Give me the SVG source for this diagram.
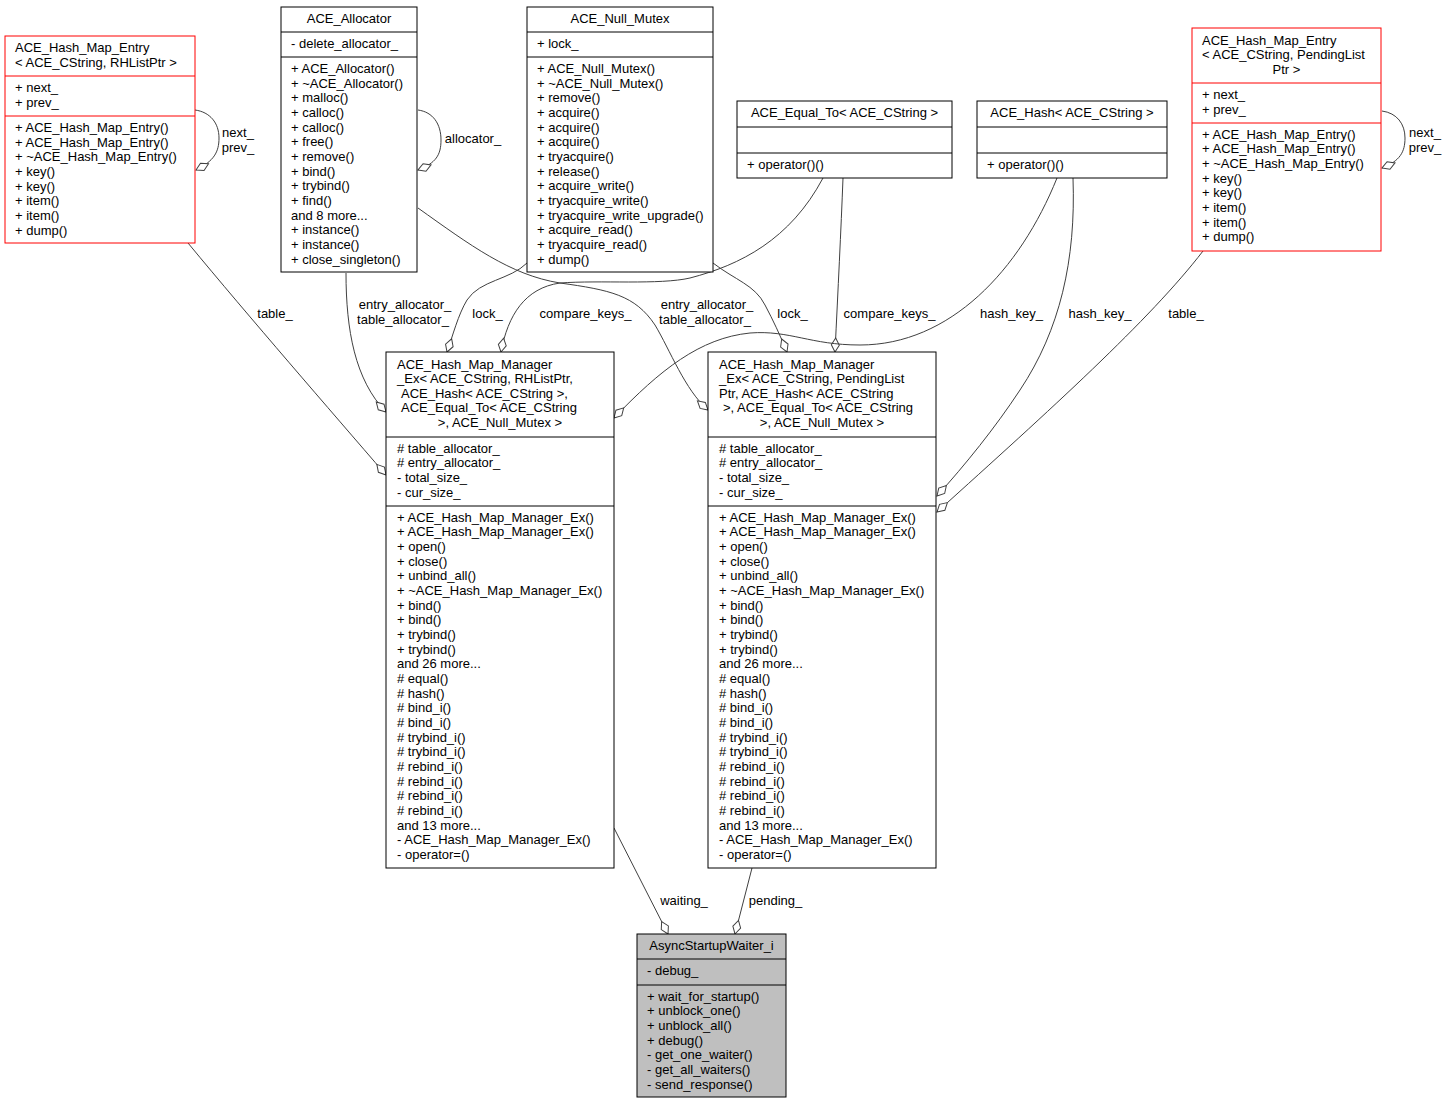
<svg xmlns="http://www.w3.org/2000/svg" width="1448" height="1104" viewBox="0 0 1448 1104">
<style>
text{font-family:"Liberation Sans",Arial,sans-serif;font-size:13px;fill:#000}
.m{text-anchor:middle}
.box{fill:#fff;stroke:#000;stroke-width:1}
.red{fill:#fff;stroke:#ff0000;stroke-width:1}
.grey{fill:#bfbfbf;stroke:#000;stroke-width:1}
.sep{stroke:#000;stroke-width:1}
.sepr{stroke:#ff0000;stroke-width:1}
.e{fill:none;stroke:#404040;stroke-width:1;marker-end:url(#d)}
</style>
<defs>
<marker id="d" markerUnits="userSpaceOnUse" markerWidth="18" markerHeight="12" viewBox="-16 -6 18 12" refX="0" refY="0" orient="auto">
<path d="M0,0 L-7,-4 L-14,0 L-7,4 Z" fill="#fff" stroke="#404040" stroke-width="1"/>
</marker>
</defs>
<rect width="1448" height="1104" fill="#fff"/>

<g id="connectors">
<path class="e" d="M195,110 C210,112 219,123 219,138 C219,152 214,161 196,170"/>
<text class="m" x="238" y="136.5">next_</text><text class="m" x="238" y="151.5">prev_</text>
<path class="e" d="M418,110 C433,112 441,124 441,140 C441,155 436,163 418,170"/>
<text class="m" x="473" y="142.5">allocator_</text>
<path class="e" d="M1382,111 C1397,113 1405,124 1405,138 C1405,152 1400,161 1382,168"/>
<text class="m" x="1425" y="136.5">next_</text><text class="m" x="1425" y="151.5">prev_</text>
<path class="e" d="M188,243 C250,318 330,410 386,475"/>
<text class="m" x="275" y="317.5">table_</text>
<path class="e" d="M346,273 C346,330 355,380 386,412"/>
<text class="m" x="405" y="308.5">entry_allocator_</text><text class="m" x="403" y="323.5">table_allocator_</text>
<path class="e" d="M527,263 C510,280 480,280 467,300 C458,315 453,335 447,352"/>
<text class="m" x="487.5" y="317.5">lock_</text>
<path class="e" d="M823,178 C790,240 740,265 690,278 C660,285 600,280 560,283 C525,288 508,315 501,352"/>
<text class="m" x="585.5" y="317.5">compare_keys_</text>
<path class="e" d="M418,208 C470,245 510,275 560,283 C610,290 635,295 655,325 C670,350 685,390 708,410"/>
<text class="m" x="707" y="308.5">entry_allocator_</text><text class="m" x="705" y="323.5">table_allocator_</text>
<path class="e" d="M713,263 C735,280 755,285 765,305 C773,320 780,335 787,352"/>
<text class="m" x="792.5" y="317.5">lock_</text>
<path class="e" d="M843,178 C841,230 838,290 835,352"/>
<text class="m" x="889.5" y="317.5">compare_keys_</text>
<path class="e" d="M1057,178 C1020,270 950,345 860,345 C810,345 790,330 750,333 C700,338 660,370 614,418"/>
<text class="m" x="1011.5" y="317.5">hash_key_</text>
<path class="e" d="M1073,178 C1076,260 1060,330 1020,390 C995,428 965,465 937,496"/>
<text class="m" x="1100" y="317.5">hash_key_</text>
<path class="e" d="M1203,251 C1150,320 1050,410 937,512"/>
<text class="m" x="1186" y="317.5">table_</text>
<path class="e" d="M614,828 L668,934"/>
<text class="m" x="684" y="904.5">waiting_</text>
<path class="e" d="M752,868 L735,934"/>
<text class="m" x="775.5" y="904.5">pending_</text>
</g>

<g id="entry_rh">
<rect class="red" x="5" y="36" width="190" height="207"/>
<line class="sepr" x1="5" y1="76" x2="195" y2="76"/>
<line class="sepr" x1="5" y1="116" x2="195" y2="116"/>
<text x="15" y="52">ACE_Hash_Map_Entry</text>
<text x="15" y="67">&lt; ACE_CString, RHListPtr &gt;</text>
<text x="15" y="92">+ next_<tspan x="15" dy="14.67">+ prev_</tspan></text>
<text x="15" y="132">+ ACE_Hash_Map_Entry()<tspan x="15" dy="14.67">+ ACE_Hash_Map_Entry()</tspan><tspan x="15" dy="14.67">+ ~ACE_Hash_Map_Entry()</tspan><tspan x="15" dy="14.67">+ key()</tspan><tspan x="15" dy="14.67">+ key()</tspan><tspan x="15" dy="14.67">+ item()</tspan><tspan x="15" dy="14.67">+ item()</tspan><tspan x="15" dy="14.67">+ dump()</tspan></text>
</g>

<g id="ace_allocator">
<rect class="box" x="281" y="7" width="136" height="265"/>
<line class="sep" x1="281" y1="32" x2="417" y2="32"/>
<line class="sep" x1="281" y1="57" x2="417" y2="57"/>
<text class="m" x="349" y="23">ACE_Allocator</text>
<text x="291" y="48">- delete_allocator_</text>
<text x="291" y="73">+ ACE_Allocator()<tspan x="291" dy="14.67">+ ~ACE_Allocator()</tspan><tspan x="291" dy="14.67">+ malloc()</tspan><tspan x="291" dy="14.67">+ calloc()</tspan><tspan x="291" dy="14.67">+ calloc()</tspan><tspan x="291" dy="14.67">+ free()</tspan><tspan x="291" dy="14.67">+ remove()</tspan><tspan x="291" dy="14.67">+ bind()</tspan><tspan x="291" dy="14.67">+ trybind()</tspan><tspan x="291" dy="14.67">+ find()</tspan><tspan x="291" dy="14.67">and 8 more...</tspan><tspan x="291" dy="14.67">+ instance()</tspan><tspan x="291" dy="14.67">+ instance()</tspan><tspan x="291" dy="14.67">+ close_singleton()</tspan></text>
</g>

<g id="ace_null_mutex">
<rect class="box" x="527" y="7" width="186" height="265"/>
<line class="sep" x1="527" y1="32" x2="713" y2="32"/>
<line class="sep" x1="527" y1="57" x2="713" y2="57"/>
<text class="m" x="620" y="23">ACE_Null_Mutex</text>
<text x="537" y="48">+ lock_</text>
<text x="537" y="73">+ ACE_Null_Mutex()<tspan x="537" dy="14.67">+ ~ACE_Null_Mutex()</tspan><tspan x="537" dy="14.67">+ remove()</tspan><tspan x="537" dy="14.67">+ acquire()</tspan><tspan x="537" dy="14.67">+ acquire()</tspan><tspan x="537" dy="14.67">+ acquire()</tspan><tspan x="537" dy="14.67">+ tryacquire()</tspan><tspan x="537" dy="14.67">+ release()</tspan><tspan x="537" dy="14.67">+ acquire_write()</tspan><tspan x="537" dy="14.67">+ tryacquire_write()</tspan><tspan x="537" dy="14.67">+ tryacquire_write_upgrade()</tspan><tspan x="537" dy="14.67">+ acquire_read()</tspan><tspan x="537" dy="14.67">+ tryacquire_read()</tspan><tspan x="537" dy="14.67">+ dump()</tspan></text>
</g>

<g id="ace_equal_to">
<rect class="box" x="737" y="101" width="215" height="77"/>
<line class="sep" x1="737" y1="127" x2="952" y2="127"/>
<line class="sep" x1="737" y1="153" x2="952" y2="153"/>
<text class="m" x="844.5" y="117">ACE_Equal_To&lt; ACE_CString &gt;</text>
<text x="747" y="169">+ operator()()</text>
</g>

<g id="ace_hash">
<rect class="box" x="977" y="101" width="190" height="77"/>
<line class="sep" x1="977" y1="127" x2="1167" y2="127"/>
<line class="sep" x1="977" y1="153" x2="1167" y2="153"/>
<text class="m" x="1072" y="117">ACE_Hash&lt; ACE_CString &gt;</text>
<text x="987" y="169">+ operator()()</text>
</g>

<g id="entry_pending">
<rect class="red" x="1192" y="28" width="189" height="223"/>
<line class="sepr" x1="1192" y1="83" x2="1381" y2="83"/>
<line class="sepr" x1="1192" y1="123" x2="1381" y2="123"/>
<text x="1202" y="44.5">ACE_Hash_Map_Entry</text>
<text x="1202" y="59">&lt; ACE_CString, PendingList</text>
<text class="m" x="1286.5" y="73.5">Ptr &gt;</text>
<text x="1202" y="99">+ next_<tspan x="1202" dy="14.67">+ prev_</tspan></text>
<text x="1202" y="138.5">+ ACE_Hash_Map_Entry()<tspan x="1202" dy="14.67">+ ACE_Hash_Map_Entry()</tspan><tspan x="1202" dy="14.67">+ ~ACE_Hash_Map_Entry()</tspan><tspan x="1202" dy="14.67">+ key()</tspan><tspan x="1202" dy="14.67">+ key()</tspan><tspan x="1202" dy="14.67">+ item()</tspan><tspan x="1202" dy="14.67">+ item()</tspan><tspan x="1202" dy="14.67">+ dump()</tspan></text>
</g>

<g id="manager_rh">
<rect class="box" x="386" y="352" width="228" height="516"/>
<line class="sep" x1="386" y1="437" x2="614" y2="437"/>
<line class="sep" x1="386" y1="506" x2="614" y2="506"/>
<text x="397" y="368.5">ACE_Hash_Map_Manager</text>
<text x="397" y="383">_Ex&lt; ACE_CString, RHListPtr,</text>
<text x="401" y="397.5">ACE_Hash&lt; ACE_CString &gt;,</text>
<text x="401" y="412">ACE_Equal_To&lt; ACE_CString</text>
<text class="m" x="500" y="427">&gt;, ACE_Null_Mutex &gt;</text>
<text x="397" y="452.5"># table_allocator_<tspan x="397" dy="14.67"># entry_allocator_</tspan><tspan x="397" dy="14.67">- total_size_</tspan><tspan x="397" dy="14.67">- cur_size_</tspan></text>
<text x="397" y="521.5">+ ACE_Hash_Map_Manager_Ex()<tspan x="397" dy="14.67">+ ACE_Hash_Map_Manager_Ex()</tspan><tspan x="397" dy="14.67">+ open()</tspan><tspan x="397" dy="14.67">+ close()</tspan><tspan x="397" dy="14.67">+ unbind_all()</tspan><tspan x="397" dy="14.67">+ ~ACE_Hash_Map_Manager_Ex()</tspan><tspan x="397" dy="14.67">+ bind()</tspan><tspan x="397" dy="14.67">+ bind()</tspan><tspan x="397" dy="14.67">+ trybind()</tspan><tspan x="397" dy="14.67">+ trybind()</tspan><tspan x="397" dy="14.67">and 26 more...</tspan><tspan x="397" dy="14.67"># equal()</tspan><tspan x="397" dy="14.67"># hash()</tspan><tspan x="397" dy="14.67"># bind_i()</tspan><tspan x="397" dy="14.67"># bind_i()</tspan><tspan x="397" dy="14.67"># trybind_i()</tspan><tspan x="397" dy="14.67"># trybind_i()</tspan><tspan x="397" dy="14.67"># rebind_i()</tspan><tspan x="397" dy="14.67"># rebind_i()</tspan><tspan x="397" dy="14.67"># rebind_i()</tspan><tspan x="397" dy="14.67"># rebind_i()</tspan><tspan x="397" dy="14.67">and 13 more...</tspan><tspan x="397" dy="14.67">- ACE_Hash_Map_Manager_Ex()</tspan><tspan x="397" dy="14.67">- operator=()</tspan></text>
</g>

<g id="manager_pending">
<rect class="box" x="708" y="352" width="228" height="516"/>
<line class="sep" x1="708" y1="437" x2="936" y2="437"/>
<line class="sep" x1="708" y1="506" x2="936" y2="506"/>
<text x="719" y="368.5">ACE_Hash_Map_Manager</text>
<text x="719" y="383">_Ex&lt; ACE_CString, PendingList</text>
<text x="719" y="397.5">Ptr, ACE_Hash&lt; ACE_CString</text>
<text x="723" y="412">&gt;, ACE_Equal_To&lt; ACE_CString</text>
<text class="m" x="822" y="427">&gt;, ACE_Null_Mutex &gt;</text>
<text x="719" y="452.5"># table_allocator_<tspan x="719" dy="14.67"># entry_allocator_</tspan><tspan x="719" dy="14.67">- total_size_</tspan><tspan x="719" dy="14.67">- cur_size_</tspan></text>
<text x="719" y="521.5">+ ACE_Hash_Map_Manager_Ex()<tspan x="719" dy="14.67">+ ACE_Hash_Map_Manager_Ex()</tspan><tspan x="719" dy="14.67">+ open()</tspan><tspan x="719" dy="14.67">+ close()</tspan><tspan x="719" dy="14.67">+ unbind_all()</tspan><tspan x="719" dy="14.67">+ ~ACE_Hash_Map_Manager_Ex()</tspan><tspan x="719" dy="14.67">+ bind()</tspan><tspan x="719" dy="14.67">+ bind()</tspan><tspan x="719" dy="14.67">+ trybind()</tspan><tspan x="719" dy="14.67">+ trybind()</tspan><tspan x="719" dy="14.67">and 26 more...</tspan><tspan x="719" dy="14.67"># equal()</tspan><tspan x="719" dy="14.67"># hash()</tspan><tspan x="719" dy="14.67"># bind_i()</tspan><tspan x="719" dy="14.67"># bind_i()</tspan><tspan x="719" dy="14.67"># trybind_i()</tspan><tspan x="719" dy="14.67"># trybind_i()</tspan><tspan x="719" dy="14.67"># rebind_i()</tspan><tspan x="719" dy="14.67"># rebind_i()</tspan><tspan x="719" dy="14.67"># rebind_i()</tspan><tspan x="719" dy="14.67"># rebind_i()</tspan><tspan x="719" dy="14.67">and 13 more...</tspan><tspan x="719" dy="14.67">- ACE_Hash_Map_Manager_Ex()</tspan><tspan x="719" dy="14.67">- operator=()</tspan></text>
</g>

<g id="async_startup_waiter">
<rect class="grey" x="637" y="934" width="149" height="163"/>
<line class="sep" x1="637" y1="959" x2="786" y2="959"/>
<line class="sep" x1="637" y1="985" x2="786" y2="985"/>
<text class="m" x="711.5" y="949.5">AsyncStartupWaiter_i</text>
<text x="647" y="974.5">- debug_</text>
<text x="647" y="1000.5">+ wait_for_startup()<tspan x="647" dy="14.67">+ unblock_one()</tspan><tspan x="647" dy="14.67">+ unblock_all()</tspan><tspan x="647" dy="14.67">+ debug()</tspan><tspan x="647" dy="14.67">- get_one_waiter()</tspan><tspan x="647" dy="14.67">- get_all_waiters()</tspan><tspan x="647" dy="14.67">- send_response()</tspan></text>
</g>
</svg>
